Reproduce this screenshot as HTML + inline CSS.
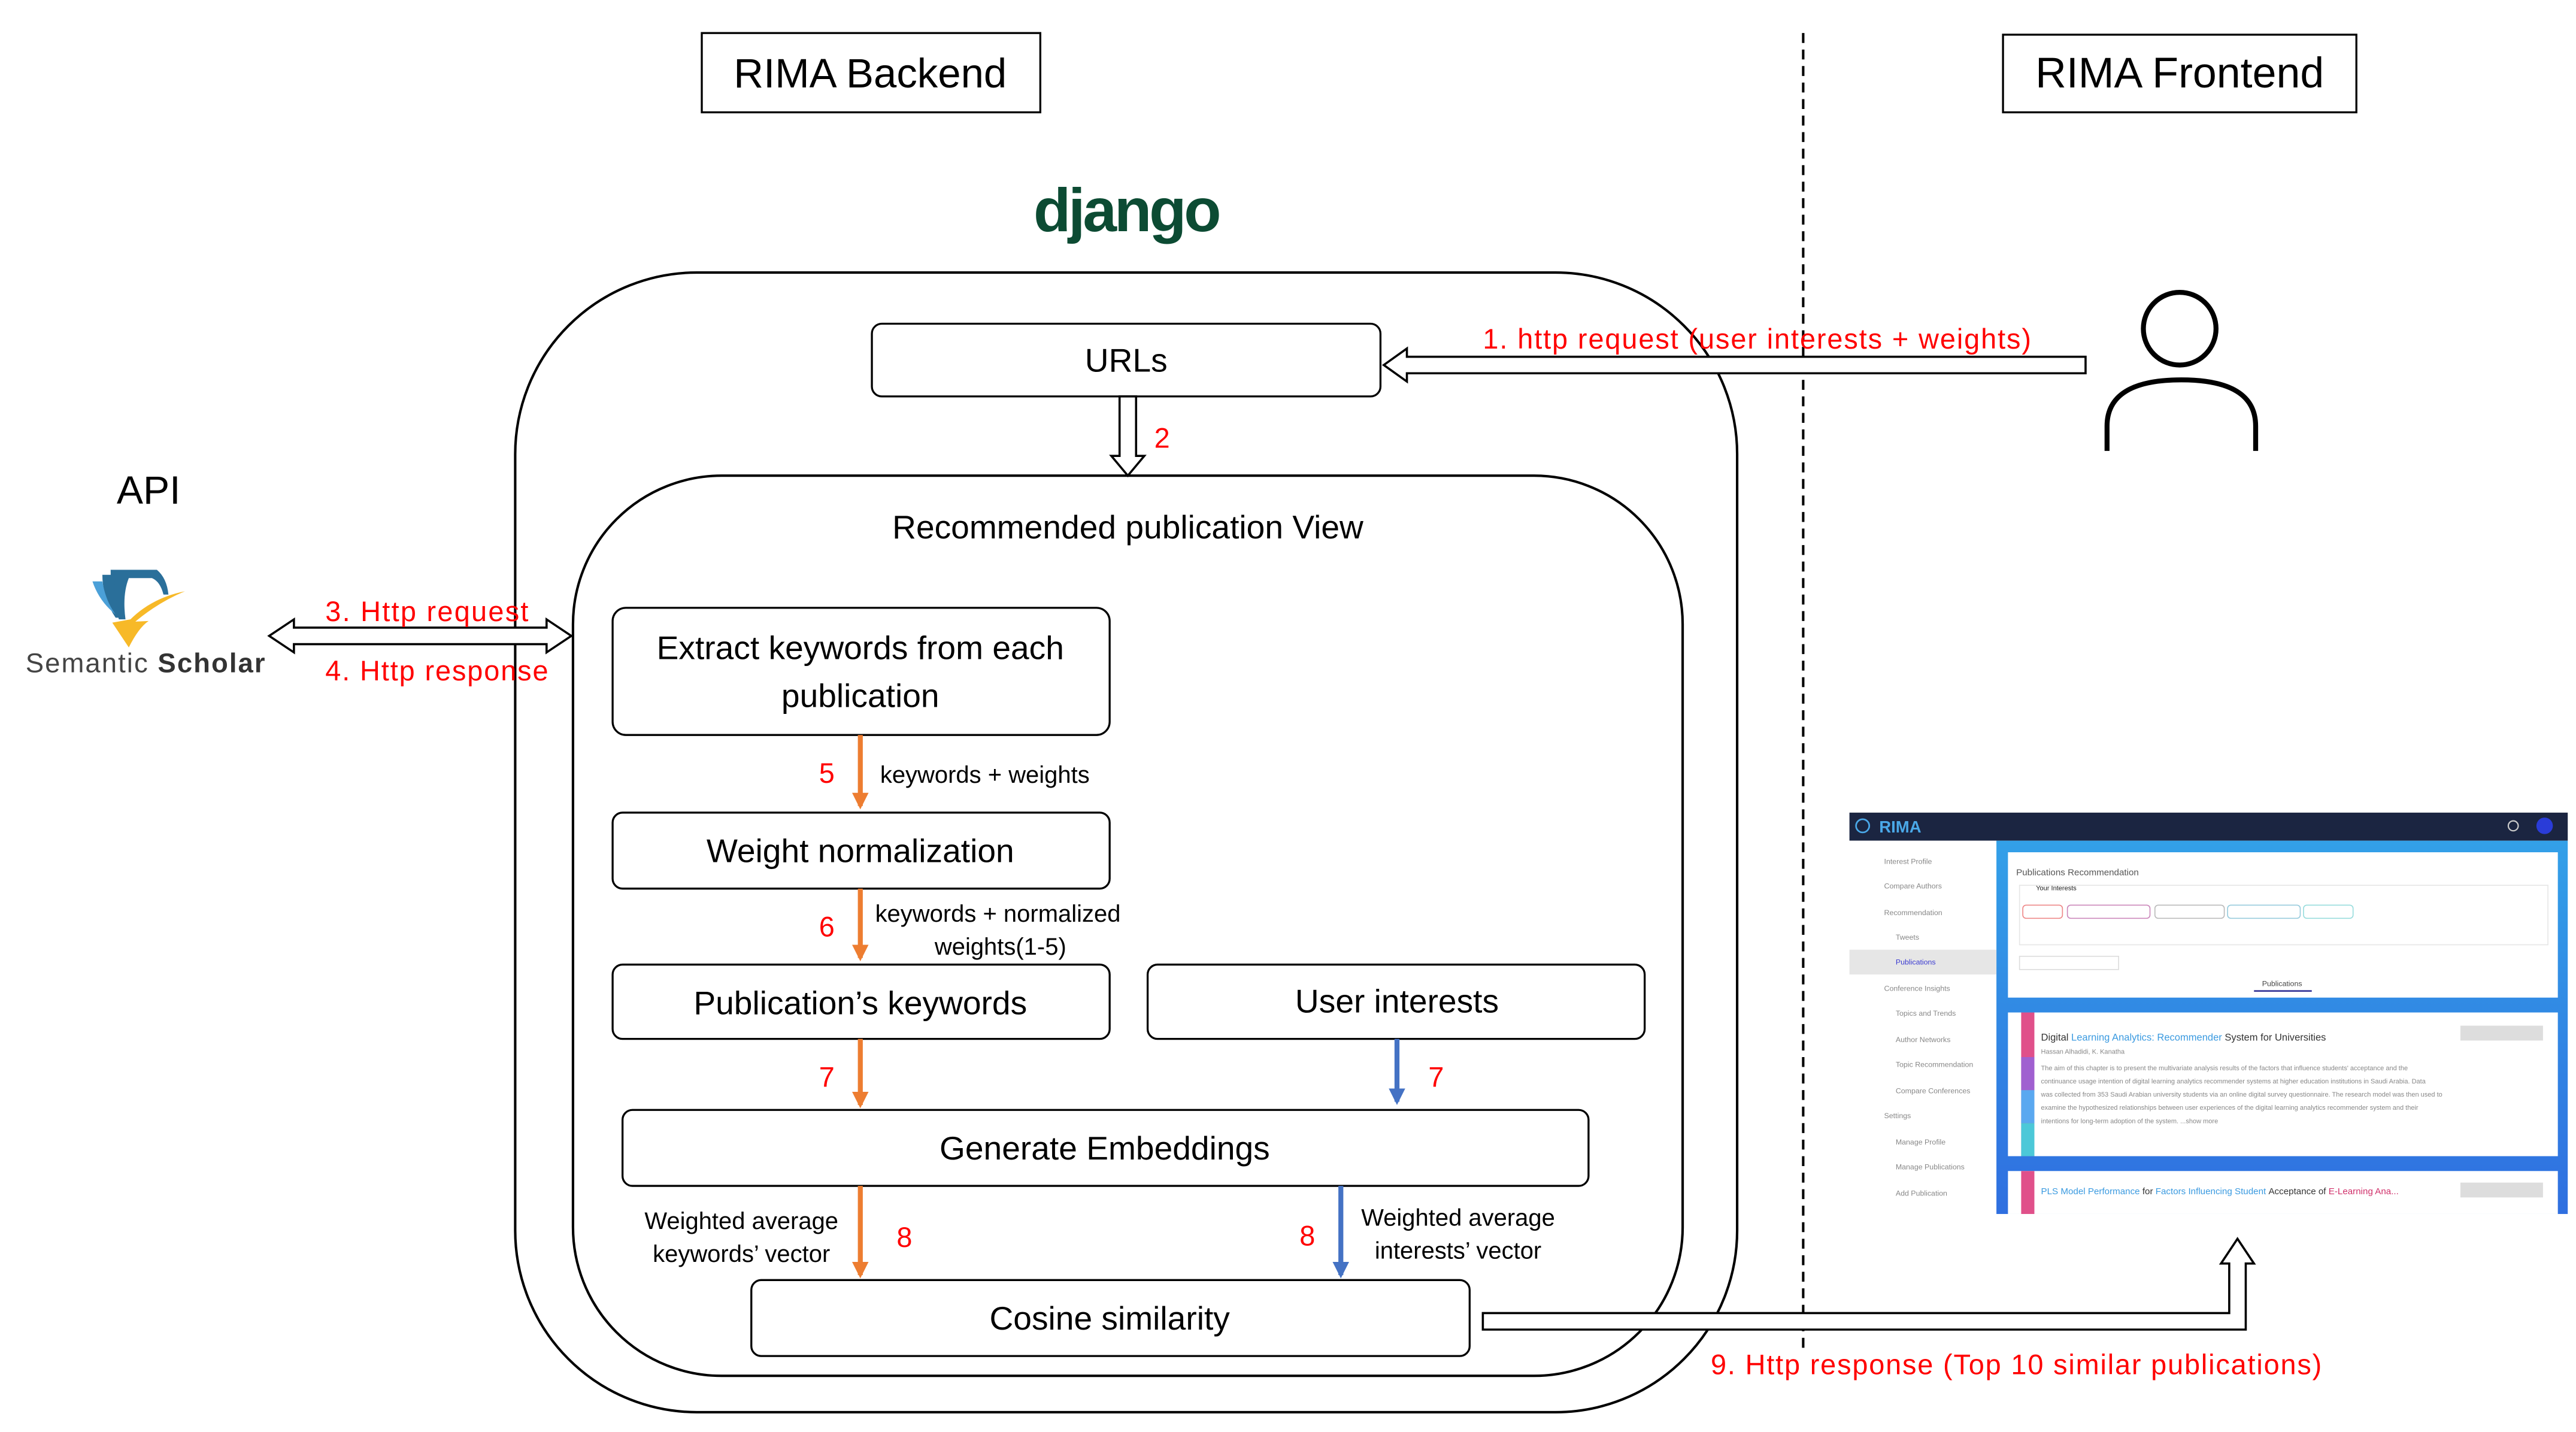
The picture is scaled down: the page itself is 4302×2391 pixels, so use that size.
<!DOCTYPE html>
<html><head><meta charset="utf-8"><style>
html,body{margin:0;padding:0;background:#fff;}
svg{display:block;}
text{font-family:"Liberation Sans",sans-serif;}
</style></head><body>
<svg width="4302" height="2391" viewBox="0 0 1560 867" preserveAspectRatio="none" xmlns="http://www.w3.org/2000/svg">
<defs>
<marker id="ao" markerWidth="10" markerHeight="10" refX="8" refY="5" orient="auto" markerUnits="userSpaceOnUse"><path d="M0,0 L10,5 L0,10 z" fill="#ed7d31"/></marker>
<marker id="ab" markerWidth="10" markerHeight="10" refX="8" refY="5" orient="auto" markerUnits="userSpaceOnUse"><path d="M0,0 L10,5 L0,10 z" fill="#4472c4"/></marker>
<linearGradient id="bg" x1="0" y1="0" x2="0" y2="1"><stop offset="0" stop-color="#33a0e8"/><stop offset="1" stop-color="#2f6fe0"/></linearGradient>
</defs>
<rect width="1560" height="867" fill="#fff"/>
<rect x="425" y="20" width="205" height="48" fill="#fff" stroke="#000" stroke-width="1.2"/>
<text x="527" y="53" font-size="25" text-anchor="middle">RIMA Backend</text>
<rect x="1213" y="21" width="214" height="47" fill="#fff" stroke="#000" stroke-width="1.2"/>
<text x="1320" y="53" font-size="26" text-anchor="middle">RIMA Frontend</text>
<line x1="1092" y1="20" x2="1092" y2="820" stroke="#000" stroke-width="1.5" stroke-dasharray="6,4"/>
<text x="682" y="140" font-size="37" font-weight="bold" fill="#0c4b33" text-anchor="middle" letter-spacing="-1.5">django</text>
<rect x="312" y="165" width="740" height="690" rx="110" fill="none" stroke="#000" stroke-width="1.5"/>
<rect x="347" y="288" width="672" height="545" rx="90" fill="none" stroke="#000" stroke-width="1.5"/>
<text x="683" y="326" font-size="20" text-anchor="middle">Recommended publication View</text>
<g fill="#fff" stroke="#000" stroke-width="1.2">
<rect x="528" y="196" width="308" height="44" rx="6"/>
<rect x="371" y="368" width="301" height="77" rx="8"/>
<rect x="371" y="492" width="301" height="46" rx="6"/>
<rect x="371" y="584" width="301" height="45" rx="6"/>
<rect x="695" y="584" width="301" height="45" rx="6"/>
<rect x="377" y="672" width="585" height="46" rx="6"/>
<rect x="455" y="775" width="435" height="46" rx="6"/>
</g>
<g font-size="20" text-anchor="middle">
<text x="682" y="225">URLs</text>
<text x="521" y="399">Extract keywords from each</text>
<text x="521" y="428">publication</text>
<text x="521" y="522">Weight normalization</text>
<text x="521" y="614">Publication’s keywords</text>
<text x="846" y="613">User interests</text>
<text x="669" y="702">Generate Embeddings</text>
<text x="672" y="805">Cosine similarity</text>
</g>
<g fill="#fff" stroke="#000" stroke-width="1.3">
<polygon points="1263,216 852,216 852,211 838,221 852,231 852,226 1263,226"/>
<polygon points="678,240 688,240 688,276 693,276 683,288 673,276 678,276"/>
<polygon points="163,385 178,375 178,380 331,380 331,375 346,385 331,395 331,390 178,390 178,395"/>
<polygon points="898,795 1350,795 1350,765 1345,765 1355,750 1365,765 1360,765 1360,805 898,805"/>
</g>
<g fill="#ff0000" font-size="17">
<text x="898" y="211" textLength="332">1. http request (user interests + weights)</text>
<text x="699" y="271">2</text>
<text x="197" y="376" textLength="123">3. Http request</text>
<text x="197" y="412" textLength="135">4. Http response</text>
<text x="496" y="474">5</text>
<text x="496" y="567">6</text>
<text x="496" y="658">7</text>
<text x="865" y="658">7</text>
<text x="543" y="755">8</text>
<text x="787" y="754">8</text>
<text x="1036" y="832" textLength="370">9. Http response (Top 10 similar publications)</text>
</g>
<g stroke-width="3" fill="none">
<line x1="521" y1="445" x2="521" y2="488" stroke="#ed7d31" marker-end="url(#ao)"/>
<line x1="521" y1="538" x2="521" y2="580" stroke="#ed7d31" marker-end="url(#ao)"/>
<line x1="521" y1="629" x2="521" y2="669" stroke="#ed7d31" marker-end="url(#ao)"/>
<line x1="846" y1="629" x2="846" y2="667" stroke="#4472c4" marker-end="url(#ab)"/>
<line x1="521" y1="718" x2="521" y2="772" stroke="#ed7d31" marker-end="url(#ao)"/>
<line x1="812" y1="718" x2="812" y2="772" stroke="#4472c4" marker-end="url(#ab)"/>
</g>
<g font-size="14.5">
<text x="533" y="474">keywords + weights</text>
<text x="530" y="558">keywords + normalized</text>
<text x="566" y="578">weights(1-5)</text>
<text x="449" y="744" text-anchor="middle">Weighted average</text>
<text x="449" y="764" text-anchor="middle">keywords’ vector</text>
<text x="883" y="742" text-anchor="middle">Weighted average</text>
<text x="883" y="762" text-anchor="middle">interests’ vector</text>
</g>
<circle cx="1320" cy="199" r="22" fill="none" stroke="#000" stroke-width="3"/>
<path d="M1276,273 L1276,258 Q1276,230 1321,230 Q1366,230 1366,258 L1366,273" fill="none" stroke="#000" stroke-width="3"/>
<text x="90" y="305" font-size="24" text-anchor="middle">API</text>
<path d="M67,345 L95,345 Q101,350 102,360 L99,360 Q97,352 92,350 L78,350 Q74,360 76,375 L72,375 Q67,360 67,345z" fill="#2a6f9a"/>
<path d="M62,348 L70,348 Q68,362 74,374 L70,374 Q62,362 62,348z" fill="#2a6f9a"/>
<path d="M56,352 L62,352 Q64,364 70,372 Q60,364 56,352z" fill="#4ba0d8"/>
<path d="M68,377 L80,378 Q95,365 112,358 Q92,362 79,375 L68,377 L78,392 Q84,380 90,376z" fill="#f7b928"/>
<text x="88" y="407" font-size="16.5" fill="#444" text-anchor="middle" textLength="145">Semantic <tspan font-weight="bold" fill="#333">Scholar</tspan></text>
<g>
<rect x="1120" y="492" width="435" height="243" fill="#fff"/>
<rect x="1120" y="492" width="435" height="17" fill="#1b2541"/>
<text x="1138" y="504" font-size="10" font-weight="bold" fill="#4aa8e8">RIMA</text>
<circle cx="1128" cy="500" r="4" fill="none" stroke="#4aa8e8" stroke-width="1"/>
<circle cx="1541" cy="500" r="5" fill="#2a3cd8"/>
<circle cx="1522" cy="500" r="3" fill="none" stroke="#ccc" stroke-width="0.8"/>
<rect x="1209" y="509" width="346" height="226" fill="url(#bg)"/>
<rect x="1120" y="509" width="89" height="226" fill="#fff"/>
<rect x="1120" y="575" width="89" height="15" fill="#e6e6e6"/>
<g fill="#888" font-size="4.5">
<text x="1141" y="523">Interest Profile</text><text x="1141" y="538">Compare Authors</text><text x="1141" y="554">Recommendation</text><text x="1148" y="569">Tweets</text><text x="1148" y="584" fill="#3a3ad0">Publications</text><text x="1141" y="600">Conference Insights</text><text x="1148" y="615">Topics and Trends</text><text x="1148" y="631">Author Networks</text><text x="1148" y="646">Topic Recommendation</text><text x="1148" y="662">Compare Conferences</text><text x="1141" y="677">Settings</text><text x="1148" y="693">Manage Profile</text><text x="1148" y="708">Manage Publications</text><text x="1148" y="724">Add Publication</text>
</g>
<rect x="1216" y="516" width="333" height="88" fill="#fff"/>
<text x="1221" y="530" font-size="5.5" fill="#555">Publications Recommendation</text>
<rect x="1223" y="536" width="320" height="36" fill="none" stroke="#e6e6e6" stroke-width="0.6"/>
<text x="1233" y="539" font-size="4" fill="#222">Your Interests</text>
<g fill="none" stroke-width="0.6">
<rect x="1225" y="548" width="24" height="8" rx="2" stroke="#e88"/><rect x="1252" y="548" width="50" height="8" rx="2" stroke="#c8b"/><rect x="1305" y="548" width="42" height="8" rx="2" stroke="#bbb"/><rect x="1349" y="548" width="44" height="8" rx="2" stroke="#9cd"/><rect x="1395" y="548" width="30" height="8" rx="2" stroke="#9dd"/>
</g>
<rect x="1223" y="579" width="60" height="8" fill="none" stroke="#ddd" stroke-width="0.6"/>
<text x="1382" y="597" font-size="4.5" fill="#444" text-anchor="middle">Publications</text>
<line x1="1365" y1="600" x2="1400" y2="600" stroke="#3a3a9a" stroke-width="1"/>
<rect x="1216" y="613" width="333" height="87" fill="#fff"/>
<rect x="1224" y="613" width="8" height="87" fill="#e0508a"/>
<rect x="1224" y="640" width="8" height="20" fill="#a060d0"/>
<rect x="1224" y="660" width="8" height="20" fill="#5aa8f0"/>
<rect x="1224" y="680" width="8" height="20" fill="#4cc8d8"/>
<text x="1236" y="630" font-size="6" fill="#333">Digital <tspan fill="#3a9ae0">Learning Analytics: Recommender</tspan> System for Universities</text>
<rect x="1490" y="621" width="50" height="9" fill="#ddd"/>
<g fill="#888" font-size="4"><text x="1236" y="638">Hassan Alhadidi, K. Kanatha</text>
<text x="1236" y="648">The aim of this chapter is to present the multivariate analysis results of the factors that influence students' acceptance and the</text>
<text x="1236" y="656">continuance usage intention of digital learning analytics recommender systems at higher education institutions in Saudi Arabia. Data</text>
<text x="1236" y="664">was collected from 353 Saudi Arabian university students via an online digital survey questionnaire. The research model was then used to</text>
<text x="1236" y="672">examine the hypothesized relationships between user experiences of the digital learning analytics recommender system and their</text>
<text x="1236" y="680">intentions for long-term adoption of the system. ...show more</text></g>
<rect x="1216" y="709" width="333" height="26" fill="#fff"/>
<rect x="1224" y="709" width="8" height="26" fill="#e0508a"/>
<text x="1236" y="723" font-size="5.5" fill="#3a9ae0">PLS Model Performance <tspan fill="#333">for</tspan> Factors Influencing Student <tspan fill="#333">Acceptance of</tspan> <tspan fill="#d0306a">E-Learning Ana...</tspan></text>
<rect x="1490" y="716" width="50" height="9" fill="#ddd"/>
</g>
</svg>
</body></html>
